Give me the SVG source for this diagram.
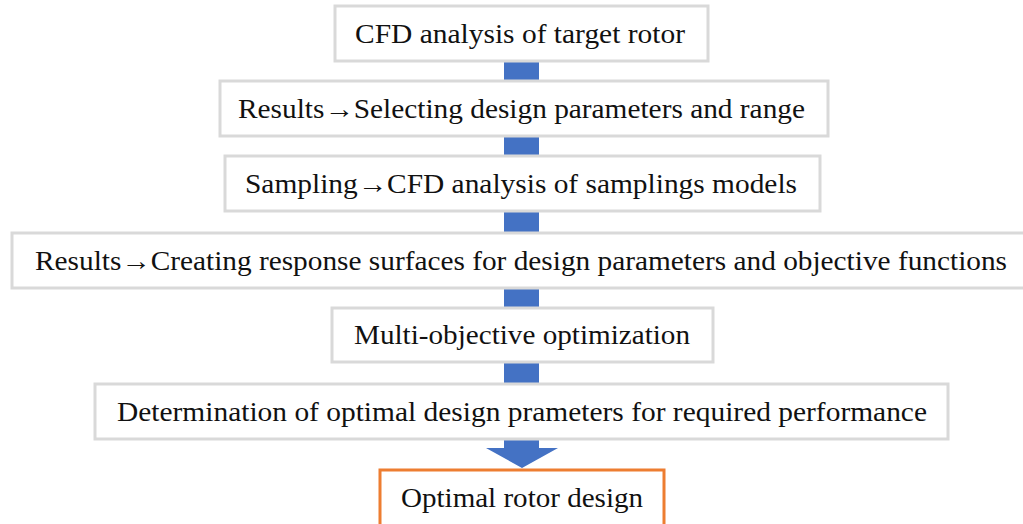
<svg xmlns="http://www.w3.org/2000/svg" width="1023" height="524" viewBox="0 0 1023 524">
<style>
.box{fill:#fff;stroke:#d9d9d9;stroke-width:3}
.fin{fill:#fff;stroke:#ed7d31;stroke-width:3}
.t{font-family:"Liberation Serif","Times New Roman",serif;font-size:27px;fill:#111}
.c{fill:#4472c4}
</style>
<rect width="1023" height="524" fill="#fff"/>
<g id="connectors">
<rect class="c" x="504" y="61" width="35" height="20"/>
<rect class="c" x="504" y="136" width="35" height="20"/>
<rect class="c" x="504" y="211" width="35" height="22"/>
<rect class="c" x="504" y="288" width="35" height="20"/>
<rect class="c" x="504" y="362" width="35" height="22"/>
<path class="c" d="M504 439H539V448H558L522 468L486 448H504Z"/>
</g>
<g id="n1"><rect class="box" x="335" y="6" width="373" height="55"/><text class="t" x="355" y="43" textLength="330" lengthAdjust="spacingAndGlyphs">CFD analysis of target rotor</text></g>
<g id="n2"><rect class="box" x="220" y="81" width="608" height="55"/><text class="t" x="238" y="118" textLength="567" lengthAdjust="spacingAndGlyphs">Results→Selecting design parameters and range</text></g>
<g id="n3"><rect class="box" x="225" y="156" width="595" height="55"/><text class="t" x="245" y="193" textLength="552" lengthAdjust="spacingAndGlyphs">Sampling→CFD analysis of samplings models</text></g>
<g id="n4"><rect class="box" x="12" y="233" width="1020" height="55"/><text class="t" x="35" y="270" textLength="972" lengthAdjust="spacingAndGlyphs">Results→Creating response surfaces for design parameters and objective functions</text></g>
<g id="n5"><rect class="box" x="332" y="308" width="381" height="54"/><text class="t" x="354" y="344" textLength="336" lengthAdjust="spacingAndGlyphs">Multi-objective optimization</text></g>
<g id="n6"><rect class="box" x="95" y="384" width="853" height="55"/><text class="t" x="117" y="421" textLength="810" lengthAdjust="spacingAndGlyphs">Determination of optimal design prameters for required performance</text></g>
<g id="n7"><rect class="fin" x="380" y="470" width="284" height="60"/><text class="t" x="401" y="507" textLength="242" lengthAdjust="spacingAndGlyphs">Optimal rotor design</text></g>
</svg>
